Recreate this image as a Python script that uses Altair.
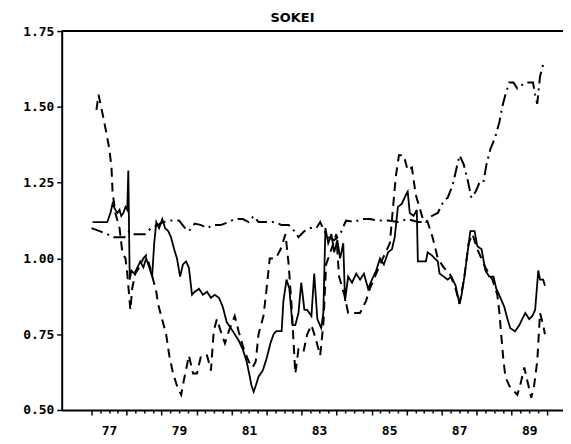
import altair as alt
import pandas as pd

# ---- data (decimal years, index values) ----
solid_year = [1977.03,1977.23,1977.45,1977.54,1977.60,1977.68,1977.74,1977.80,1977.85,1977.91,
              1977.97,1978.02,1978.05,1978.09,1978.14,1978.22,1978.31,1978.39,1978.48,1978.56,
              1978.65,1978.73,1978.79,1978.85,1978.93,1979.02,1979.10,1979.19,1979.27,1979.36,
              1979.44,1979.53,1979.61,1979.70,1979.78,1979.87,1979.95,1980.07,1980.18,1980.30,
              1980.41,1980.52,1980.64,1980.75,1980.86,1980.98,1981.09,1981.20,1981.32,1981.43,
              1981.52,1981.57,1981.63,1981.69,1981.77,1981.89,1982.00,1982.11,1982.20,1982.28,
              1982.43,1982.48,1982.57,1982.65,1982.74,1982.82,1982.91,1982.99,1983.08,1983.16,
              1983.28,1983.36,1983.45,1983.56,1983.62,1983.68,1983.76,1983.85,1983.93,1984.02,
              1984.10,1984.19,1984.24,1984.33,1984.44,1984.56,1984.67,1984.78,1984.90,1985.01,
              1985.13,1985.24,1985.35,1985.47,1985.58,1985.66,1985.75,1985.86,1985.98,1986.03,
              1986.09,1986.20,1986.29,1986.32,1986.43,1986.55,1986.60,1986.72,1986.80,1986.89,
              1986.94,1987.06,1987.17,1987.28,1987.40,1987.51,1987.57,1987.65,1987.74,1987.82,
              1987.94,1988.02,1988.14,1988.25,1988.36,1988.48,1988.56,1988.68,1988.79,1988.88,
              1988.96,1989.10,1989.22,1989.30,1989.39,1989.50,1989.59,1989.67,1989.76,1989.81,
              1989.90,1989.95]
solid_val = [1.12,1.12,1.12,1.15,1.18,1.16,1.15,1.16,1.14,1.15,
             1.17,1.16,1.29,0.93,0.96,0.95,0.97,0.99,0.97,1.00,
             0.97,0.94,1.05,1.12,1.10,1.13,1.10,1.09,1.07,1.03,
             1.00,0.94,0.98,0.99,0.97,0.88,0.89,0.90,0.88,0.89,
             0.87,0.88,0.87,0.84,0.79,0.77,0.75,0.73,0.70,0.66,
             0.61,0.58,0.56,0.58,0.61,0.63,0.67,0.72,0.75,0.76,
             0.76,0.86,0.93,0.90,0.78,0.78,0.82,0.92,0.83,0.83,
             0.81,0.95,0.80,0.77,0.82,1.10,1.05,1.08,1.02,1.06,
             1.00,1.05,0.86,0.94,0.92,0.95,0.93,0.95,0.90,0.93,
             0.96,1.00,0.98,1.02,1.03,1.07,1.17,1.18,1.21,1.22,
             1.15,1.14,1.16,0.99,0.99,0.99,1.02,1.01,1.00,0.99,
             0.95,0.94,0.93,0.94,0.91,0.85,0.88,0.94,1.02,1.09,
             1.09,1.04,1.03,0.96,0.94,0.94,0.90,0.87,0.84,0.80,
             0.77,0.76,0.78,0.80,0.82,0.80,0.81,0.83,0.96,0.93,
             0.93,0.91]

dashed_year = [1977.14,1977.20,1977.31,1977.43,1977.51,1977.57,1977.60,1977.68,1977.80,1977.88,
               1977.97,1978.02,1978.11,1978.16,1978.25,1978.36,1978.48,1978.56,1978.65,1978.76,
               1978.85,1978.90,1978.99,1979.13,1979.22,1979.33,1979.44,1979.56,1979.64,1979.73,
               1979.78,1979.90,1980.01,1980.13,1980.30,1980.41,1980.49,1980.58,1980.69,1980.81,
               1980.92,1981.09,1981.20,1981.35,1981.49,1981.60,1981.69,1981.77,1981.91,1982.00,
               1982.09,1982.26,1982.40,1982.54,1982.63,1982.71,1982.82,1982.91,1983.05,1983.16,
               1983.28,1983.39,1983.53,1983.62,1983.70,1983.88,1983.99,1984.07,1984.22,1984.33,
               1984.50,1984.67,1984.84,1984.95,1985.13,1985.32,1985.52,1985.69,1985.78,1985.92,
               1986.03,1986.15,1986.26,1986.49,1986.60,1986.74,1986.89,1987.06,1987.23,1987.40,
               1987.51,1987.65,1987.77,1987.88,1988.02,1988.25,1988.45,1988.59,1988.65,1988.70,
               1988.76,1988.82,1988.93,1989.16,1989.24,1989.36,1989.44,1989.56,1989.64,1989.73,
               1989.78,1989.81,1989.90,1989.95]
dashed_val = [1.49,1.54,1.48,1.41,1.36,1.30,1.22,1.15,1.10,1.02,
              1.00,0.95,0.83,0.90,0.95,0.97,1.00,1.01,0.98,0.93,
              0.89,0.85,0.81,0.75,0.68,0.62,0.58,0.55,0.60,0.65,
              0.68,0.62,0.62,0.68,0.68,0.63,0.76,0.80,0.76,0.72,
              0.76,0.81,0.76,0.70,0.66,0.64,0.66,0.75,0.81,0.90,
              1.00,1.00,1.03,1.08,0.98,0.85,0.62,0.70,0.69,0.75,
              0.78,0.74,0.68,0.78,0.98,1.04,1.08,0.94,0.88,0.82,
              0.82,0.82,0.86,0.90,0.95,1.00,1.05,1.27,1.34,1.34,
              1.29,1.30,1.21,1.12,1.12,1.07,1.00,0.97,0.95,0.90,
              0.85,0.94,1.05,1.08,1.03,0.97,0.93,0.88,0.82,0.75,
              0.67,0.61,0.58,0.55,0.58,0.64,0.60,0.54,0.58,0.66,
              0.76,0.82,0.78,0.75]

dashdot_year = [1977.00,1977.23,1977.45,1977.63,1977.80,1977.94,1978.08,1978.22,1978.36,1978.53,
                1978.70,1978.88,1979.05,1979.27,1979.50,1979.67,1979.78,1979.95,1980.13,1980.30,
                1980.47,1980.69,1980.92,1981.09,1981.32,1981.49,1981.63,1981.77,1982.00,1982.23,
                1982.43,1982.63,1982.80,1982.91,1983.08,1983.25,1983.42,1983.53,1983.65,1983.76,
                1983.93,1984.10,1984.27,1984.50,1984.73,1984.95,1985.18,1985.47,1985.75,1986.03,
                1986.32,1986.55,1986.72,1986.89,1987.06,1987.17,1987.31,1987.43,1987.51,1987.63,
                1987.74,1987.85,1987.97,1988.08,1988.19,1988.28,1988.39,1988.53,1988.65,1988.73,
                1988.82,1988.93,1989.05,1989.16,1989.27,1989.39,1989.50,1989.61,1989.67,1989.73,
                1989.81,1989.90,1989.95]
dashdot_val = [1.10,1.09,1.08,1.07,1.07,1.07,1.09,1.08,1.08,1.08,
               1.10,1.11,1.12,1.125,1.125,1.10,1.09,1.115,1.11,1.10,
               1.11,1.11,1.12,1.13,1.13,1.12,1.14,1.12,1.12,1.12,
               1.11,1.11,1.09,1.07,1.09,1.10,1.10,1.12,1.09,1.07,
               1.06,1.08,1.125,1.12,1.13,1.13,1.125,1.125,1.12,1.13,
               1.12,1.12,1.14,1.15,1.19,1.20,1.24,1.30,1.34,1.31,
               1.26,1.20,1.22,1.25,1.25,1.31,1.36,1.40,1.45,1.50,
               1.54,1.58,1.58,1.56,1.57,1.58,1.58,1.58,1.54,1.51,
               1.60,1.64,1.65]

y_ticks = [0.50, 0.75, 1.00, 1.25, 1.50, 1.75]
x_ticks = [1977 + 0.25 * i for i in range(53)]   # quarterly ticks 1977..1990
title_text = "SOKEI"

df = pd.concat([
    pd.DataFrame({"year": solid_year, "value": solid_val, "series": "solid"}),
    pd.DataFrame({"year": dashed_year, "value": dashed_val, "series": "dashed"}),
    pd.DataFrame({"year": dashdot_year, "value": dashdot_val, "series": "dashdot"}),
], ignore_index=True)

FONT = "DejaVu Sans Mono"

xscale = alt.Scale(domain=[1976.148, 1990.466], nice=False, zero=False)
yscale = alt.Scale(domain=[0.5, 1.75], nice=False, zero=False)

xaxis = alt.Axis(
    values=x_ticks, title=None, grid=False,
    domainColor="black", domainWidth=2,
    tickColor="black", tickWidth=1.5,
    tickSize={"condition": {"test": "datum.value % 1 == 0", "value": 5}, "value": 3},
    labelExpr="(datum.value % 1 == 0.5 && floor(datum.value) % 2 == 1) ? substring(toString(floor(datum.value)), 2) : ''",
    labelOverlap=False, labelFlush=False, labelBound=False,
    labelFont=FONT, labelFontSize=13, labelFontWeight="bold", labelColor="black",
    labelPadding=12,
)
yaxis = alt.Axis(
    values=y_ticks, format=".2f", title=None, grid=False,
    domainColor="black", domainWidth=2,
    tickColor="black", tickWidth=1.5, tickSize=5,
    labelOverlap=False, labelFlush=False,
    labelFont=FONT, labelFontSize=13, labelFontWeight="bold", labelColor="black",
    labelPadding=3,
)

base = alt.Chart(df).encode(
    x=alt.X("year:Q", scale=xscale, axis=xaxis),
    y=alt.Y("value:Q", scale=yscale, axis=yaxis),
)

solid = base.mark_line(color="black", strokeWidth=1.8).transform_filter("datum.series == 'solid'")
dashed = base.mark_line(color="black", strokeWidth=2, strokeDash=[9, 6]).transform_filter("datum.series == 'dashed'")
dashdot = base.mark_line(color="black", strokeWidth=2, strokeDash=[12, 5, 2, 5]).transform_filter("datum.series == 'dashdot'")
top = alt.Chart(pd.DataFrame({"value": [1.75]})).mark_rule(color="black", strokeWidth=2).encode(
    y=alt.Y("value:Q", scale=yscale, axis=yaxis))

chart = alt.layer(solid, dashed, dashdot, top).properties(
    width=504, height=381,
    title=alt.TitleParams(title_text, font="DejaVu Sans", fontSize=13, fontWeight="bold",
                          color="black", anchor="middle", dx=-20, offset=0),
    autosize=alt.AutoSizeParams(type="none"),
    padding={"left": 54, "top": 22, "right": 0, "bottom": 30},
).configure_view(stroke=None).configure(background="white")

chart.save("out.html", embed_options={"renderer": "svg", "actions": False})
